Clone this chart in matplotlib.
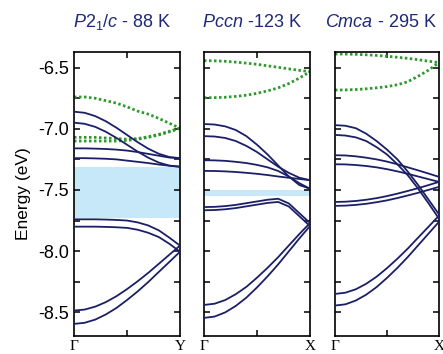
import numpy as np
import matplotlib
matplotlib.use("Agg")
import matplotlib.pyplot as plt
from matplotlib.ticker import MultipleLocator, FixedLocator

plt.rcParams['font.family'] = ['Liberation Sans', 'DejaVu Sans']
plt.rcParams['mathtext.fontset'] = 'custom'
plt.rcParams['mathtext.it'] = 'Liberation Sans:italic'
plt.rcParams['mathtext.rm'] = 'Liberation Sans'

k = [0.0, 0.1, 0.2, 0.3, 0.4, 0.5, 0.6, 0.7, 0.8, 0.9, 1.0]

titles = [r"$P2_1/c$ - 88 K", r"$Pccn$ -123 K", r"$Cmca$ - 295 K"]
end_labels = ["Y", "X", "X"]

# ---- P2_1/c (Gamma - Y) ----
p1_green = [
    [-6.74, -6.74, -6.75, -6.77, -6.79, -6.82, -6.855, -6.88, -6.915, -6.955, -6.995],
    [-7.07, -7.07, -7.07, -7.075, -7.08, -7.085, -7.08, -7.065, -7.045, -7.02, -6.995],
    [-7.10, -7.10, -7.10, -7.10, -7.10, -7.095, -7.085, -7.07, -7.05, -7.025, -6.995],
]
p1_blue = [
    [-6.86, -6.869, -6.896, -6.938, -6.991, -7.05, -7.109, -7.162, -7.204, -7.231, -7.24],
    [-6.95, -6.959, -6.984, -7.024, -7.074, -7.13, -7.186, -7.236, -7.276, -7.301, -7.31],
    [-7.16, -7.16, -7.162, -7.165, -7.17, -7.178, -7.19, -7.205, -7.22, -7.235, -7.24],
    [-7.24, -7.24, -7.242, -7.245, -7.25, -7.26, -7.27, -7.28, -7.292, -7.302, -7.31],
    [-7.74, -7.74, -7.74, -7.742, -7.745, -7.75, -7.765, -7.79, -7.83, -7.89, -7.955],
    [-7.80, -7.80, -7.80, -7.802, -7.805, -7.81, -7.825, -7.85, -7.885, -7.94, -8.005],
    [-8.486, -8.478, -8.454, -8.417, -8.369, -8.311, -8.247, -8.178, -8.104, -8.029, -7.955],
    [-8.595, -8.586, -8.56, -8.518, -8.465, -8.40, -8.33, -8.253, -8.17, -8.088, -8.005],
]
p1_gap = (-7.73, -7.31)

# ---- Pccn (Gamma - X) ----
p2_green = [
    [-6.443, -6.444, -6.448, -6.455, -6.463, -6.473, -6.485, -6.497, -6.51, -6.522, -6.533],
    [-6.746, -6.745, -6.742, -6.735, -6.725, -6.71, -6.69, -6.665, -6.63, -6.585, -6.533],
]
p2_blue = [
    [-6.961, -6.965, -6.98, -7.01, -7.06, -7.13, -7.21, -7.30, -7.39, -7.46, -7.49],
    [-7.06, -7.063, -7.075, -7.10, -7.14, -7.19, -7.25, -7.31, -7.36, -7.40, -7.42],
    [-7.257, -7.258, -7.262, -7.27, -7.28, -7.295, -7.315, -7.345, -7.39, -7.445, -7.49],
    [-7.344, -7.345, -7.348, -7.353, -7.36, -7.368, -7.378, -7.39, -7.40, -7.41, -7.42],
    [-7.64, -7.638, -7.632, -7.622, -7.608, -7.594, -7.58, -7.572, -7.61, -7.69, -7.77],
    [-7.666, -7.664, -7.658, -7.648, -7.634, -7.62, -7.606, -7.598, -7.635, -7.715, -7.795],
    [-8.44, -8.43, -8.40, -8.352, -8.292, -8.217, -8.136, -8.049, -7.954, -7.86, -7.77],
    [-8.546, -8.535, -8.501, -8.448, -8.38, -8.297, -8.206, -8.108, -8.002, -7.896, -7.795],
]
p2_gap = (-7.551, -7.502)

# ---- Cmca (Gamma - X) ----
p3_green = [
    [-6.388, -6.389, -6.391, -6.395, -6.40, -6.407, -6.415, -6.424, -6.435, -6.447, -6.459],
    [-6.683, -6.682, -6.679, -6.673, -6.665, -6.655, -6.64, -6.615, -6.57, -6.52, -6.459],
]
p3_blue = [
    [-6.97, -6.975, -6.995, -7.04, -7.10, -7.17, -7.25, -7.35, -7.46, -7.58, -7.70],
    [-7.05, -7.055, -7.07, -7.10, -7.15, -7.21, -7.29, -7.38, -7.49, -7.61, -7.735],
    [-7.216, -7.218, -7.225, -7.236, -7.25, -7.268, -7.29, -7.315, -7.34, -7.366, -7.393],
    [-7.29, -7.291, -7.296, -7.304, -7.315, -7.33, -7.348, -7.368, -7.39, -7.412, -7.434],
    [-7.598, -7.596, -7.59, -7.58, -7.567, -7.55, -7.53, -7.508, -7.485, -7.46, -7.434],
    [-7.63, -7.628, -7.622, -7.613, -7.60, -7.585, -7.566, -7.545, -7.523, -7.499, -7.475],
    [-8.35, -8.34, -8.312, -8.267, -8.209, -8.139, -8.062, -7.979, -7.889, -7.80, -7.71],
    [-8.445, -8.435, -8.404, -8.356, -8.294, -8.219, -8.137, -8.048, -7.952, -7.856, -7.76],
]
p3_gap = None

panels = [
    (p1_green, p1_blue, p1_gap),
    (p2_green, p2_blue, p2_gap),
    (p3_green, p3_blue, p3_gap),
]

W, H = 443, 354
fig = plt.figure(figsize=(W / 100, H / 100), dpi=100)
lefts = [74, 204, 335]
widths = [106, 106, 104]
title_x = [122, 252, 381]
bottom_px, top_px = 336, 52

blue = '#1b1f66'
green = '#2e9a2e'
gapc = '#c7e8f8'
title_c = '#1e2a78'

for i, (greens, blues, gap) in enumerate(panels):
    ax = fig.add_axes([lefts[i] / W, 1 - bottom_px / H, widths[i] / W, (bottom_px - top_px) / H])
    if gap is not None:
        ax.axhspan(gap[0], gap[1], color=gapc, lw=0, zorder=0)
    for g in greens:
        ax.plot(k, g, color=green, lw=2.0, ls=(0, (0.9, 0.9)), zorder=2)
    for b in blues:
        ax.plot(k, b, color=blue, lw=1.3, zorder=3)
    ax.set_xlim(0, 1)
    ax.set_ylim(-8.694, -6.372)
    ax.yaxis.set_major_locator(MultipleLocator(0.5))
    ax.yaxis.set_minor_locator(MultipleLocator(0.25))
    ax.xaxis.set_major_locator(FixedLocator([0, 1]))
    ax.xaxis.set_minor_locator(FixedLocator([0.5]))
    ax.set_xticklabels([r"Γ", end_labels[i]], family='Liberation Serif', fontsize=11)
    ax.tick_params(axis='both', which='both', direction='in', top=True, right=True,
                   length=4, width=1.1, labelsize=13)
    ax.tick_params(axis='x', which='major', length=0, pad=3, labelsize=11)
    for s in ax.spines.values():
        s.set_linewidth(1.2)
    if i == 0:
        ax.set_yticklabels([f"{v:.1f}" for v in ax.get_yticks()])
        ax.set_ylabel("Energy (eV)", fontsize=12.5, labelpad=5)
    else:
        ax.set_yticklabels([])
    fig.text(title_x[i] / W, 1 - 22.5 / H, titles[i], ha='center', va='center',
             fontsize=13, color=title_c)

fig.savefig("out.png", dpi=100)
